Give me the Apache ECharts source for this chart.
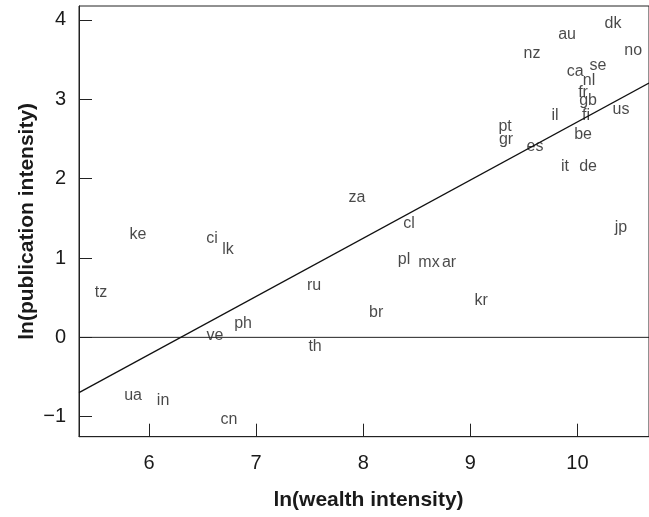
<!DOCTYPE html>
<html>
<head>
<meta charset="utf-8">
<script src="https://cdn.jsdelivr.net/npm/echarts@6/dist/echarts.min.js"></script>
<style>html,body{margin:0;padding:0;background:#fff}#c{width:649px;height:517px}</style>
</head>
<body>
<div id="c"></div>
<script>
var codes  = ['ke','ci','lk','tz','ph','ve','th','ua','in','cn','za','cl','pl','mx','ar','ru','br','kr','dk','au','nz','no','ca','se','nl','fr','gb','fi','il','us','pt','gr','es','be','it','de','jp'];
var wealth = [5.897,6.588,6.738,5.552,6.878,6.616,7.55,5.851,6.131,6.747,7.942,8.428,8.381,8.614,8.801,7.541,8.12,9.10,10.332,9.903,9.576,10.52,9.978,10.192,10.108,10.052,10.099,10.08,9.791,10.407,9.324,9.333,9.604,10.052,9.884,10.099,10.407];
var pubs   = [1.30,1.25,1.10,0.57,0.17,0.02,-0.12,-0.74,-0.80,-1.04,1.76,1.43,0.98,0.94,0.94,0.65,0.31,0.46,3.95,3.81,3.57,3.62,3.35,3.42,3.24,3.08,2.98,2.80,2.79,2.87,2.66,2.49,2.40,2.55,2.15,2.15,1.38];
var xTicks = [6,7,8,9,10];
var yTicks = [-1,0,1,2,3,4];
var fitLine  = [[5.346,-0.697],[10.668,3.206]];
var zeroLine = [[5.346,0],[10.668,0]];

var pts = codes.map(function(c,i){ return [wealth[i], pubs[i], c]; });
var chart = echarts.init(document.getElementById('c'));
var FONT = '"Liberation Sans", Arial, Helvetica, sans-serif';
chart.setOption({
  animation:false,
  backgroundColor:'#fff',
  grid:{left:79, top:6, right:0, bottom:80.3, show:true, borderColor:'#222', borderWidth:1},
  xAxis:{type:'value', min:5.346, max:10.668,
    name:'ln(wealth intensity)', nameLocation:'middle', nameGap:53, nameMoveOverlap:false,
    nameTextStyle:{fontFamily:FONT, fontSize:21, fontWeight:'bold', color:'#1a1a1a', padding:[0,0,0,9]},
    axisLine:{show:true, onZero:false, lineStyle:{color:'#222'}},
    axisTick:{show:true, inside:true, length:13, lineStyle:{color:'#222'}, customValues:xTicks},
    axisLabel:{fontFamily:FONT, fontSize:20, color:'#1a1a1a', margin:17, customValues:xTicks},
    splitLine:{show:false}},
  yAxis:{type:'value', min:-1.252, max:4.176,
    name:'ln(publication intensity)', nameLocation:'middle', nameGap:41, nameRotate:90, nameMoveOverlap:false,
    nameTextStyle:{fontFamily:FONT, fontSize:21, fontWeight:'bold', color:'#1a1a1a'},
    axisLine:{show:true, onZero:false, lineStyle:{color:'#222'}},
    axisTick:{show:true, inside:true, length:13, lineStyle:{color:'#222'}, customValues:yTicks},
    axisLabel:{fontFamily:FONT, fontSize:20, color:'#1a1a1a', margin:13, customValues:yTicks,
      formatter:function(v){ return v<0 ? '\u2212'+Math.abs(v) : String(v); }},
    splitLine:{show:false}},
  series:[
    {type:'line', data:zeroLine, symbol:'none', lineStyle:{color:'#222', width:1}, silent:true},
    {type:'line', data:fitLine, symbol:'none', lineStyle:{color:'#111', width:1.3}, silent:true},
    {type:'scatter', data:pts, symbolSize:2, itemStyle:{color:'rgba(0,0,0,0)'},
      label:{show:true, position:'inside', formatter:function(p){return p.data[2];},
        fontFamily:FONT, fontSize:16, color:'#1a1a1a'}}
  ]
});
</script>
</body>
</html>
